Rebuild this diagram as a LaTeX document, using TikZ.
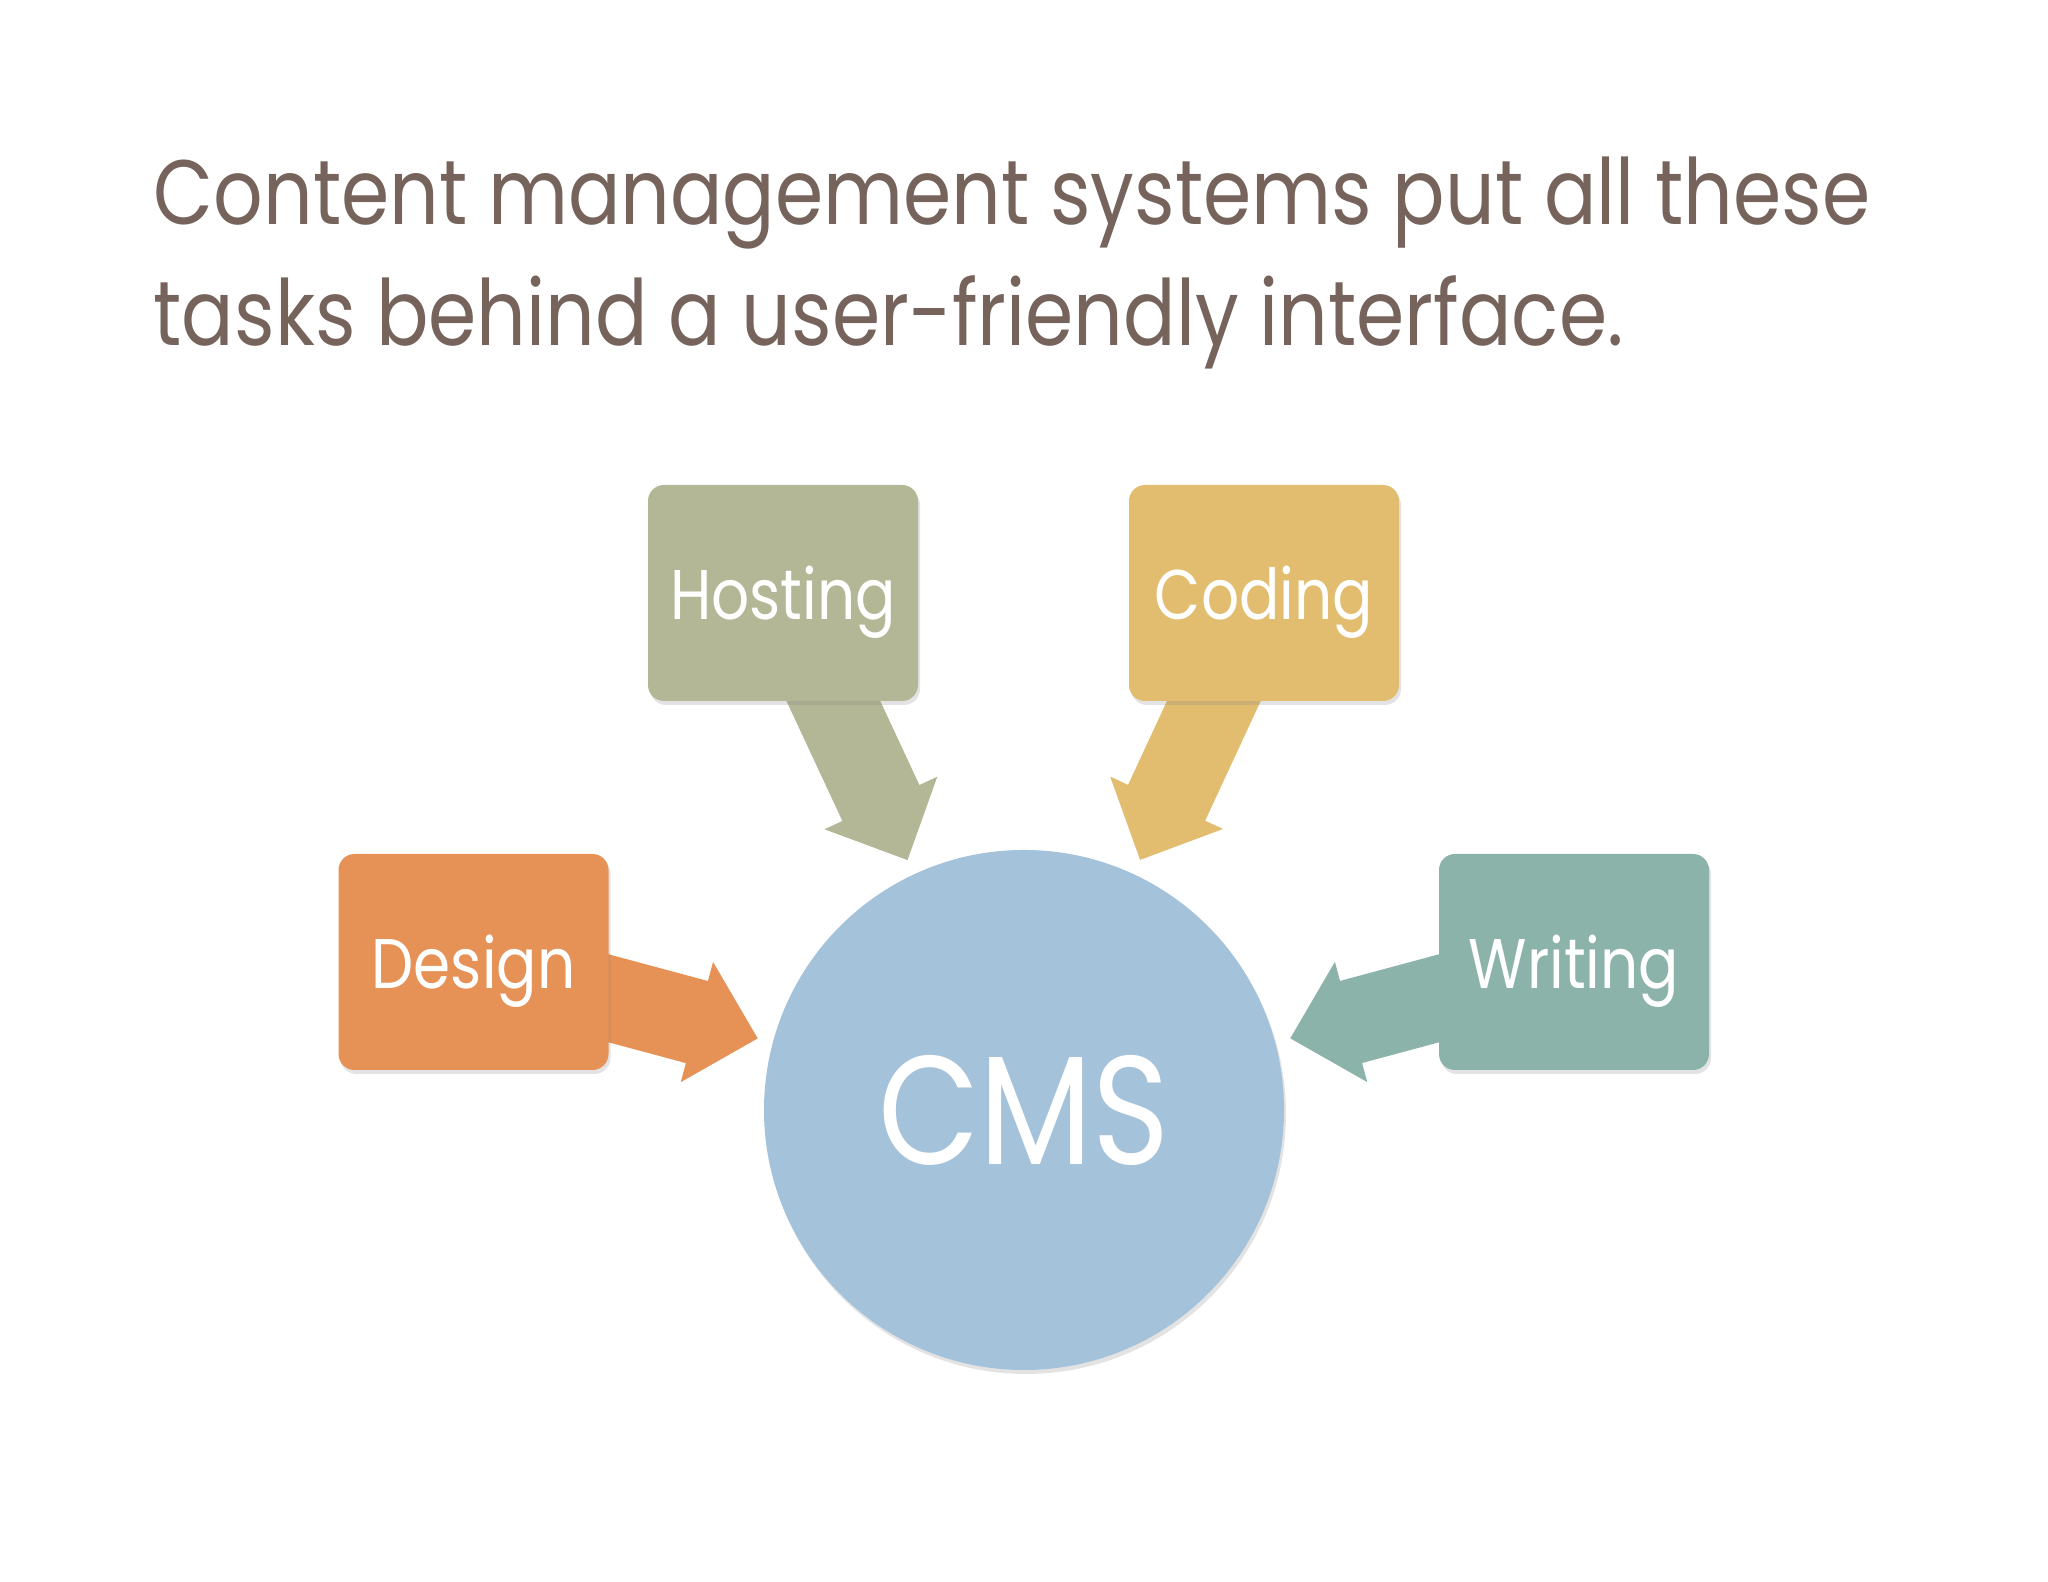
\documentclass[tikz,border=0pt]{standalone}
\usepackage{fontspec}
\setmainfont{Poppins}[FakeStretch=0.85]
\usetikzlibrary{arrows.meta,shadows,backgrounds}

\definecolor{titlebrown}{RGB}{118,99,91}
\definecolor{hostgreen}{RGB}{179,183,149}
\definecolor{codeyellow}{RGB}{226,189,111}
\definecolor{designorange}{RGB}{230,146,87}
\definecolor{writeteal}{RGB}{139,179,170}
\definecolor{cmsblue}{RGB}{165,194,219}

\tikzset{
  task/.style={rectangle, rounded corners=0.16cm, minimum width=2.7cm, minimum height=2.16cm,
    text=white, font=\fontsize{20}{24}\selectfont, text depth=0pt,
    drop shadow={shadow xshift=0.02cm, shadow yshift=-0.04cm, opacity=0.22}},
  feed/.style={line width=0.85cm, -{Triangle[length=0.63cm, width=1.23cm, line width=2pt]}, shorten >=0.15cm},
  title/.style={anchor=base west, text=titlebrown, font=\fontsize{26}{32}\selectfont, inner sep=0pt},
}

\begin{document}
\begin{tikzpicture}
\useasboundingbox (0,0) rectangle (20.48,15.82);

% heading
\node[title] (title1) at (1.53,13.57) {Content management systems put all these};
\node[title] (title2) at ([yshift=-1.21cm]title1.base west) {tasks behind a user-friendly interface.};

% centre
\node[circle, fill=cmsblue, minimum size=5.2cm, inner sep=0pt, text=white,
  font=\fontsize{44}{50}\selectfont,
  drop shadow={shadow xshift=0.02cm, shadow yshift=-0.04cm, opacity=0.22}] (cms) at (10.24,4.72) {CMS};

% tasks
\node[task, fill=hostgreen]    (hosting) at (7.83,9.89)  {Hosting};
\node[task, fill=codeyellow]   (coding)  at (12.64,9.89) {Coding};
\node[task, fill=designorange] (design)  at (4.735,6.20) {Design};
\node[task, fill=writeteal]    (writing) at (15.74,6.20) {Writing};

% arrows behind the boxes
\begin{scope}[on background layer]
\fill[white] (0,0) rectangle (20.48,15.82);
\draw[feed, hostgreen]    (hosting.center) -- (cms);
\draw[feed, codeyellow]   (coding.center)  -- (cms);
\draw[feed, designorange] (design.center)  -- (cms);
\draw[feed, writeteal]    (writing.center) -- (cms);
\end{scope}

\end{tikzpicture}
\end{document}
